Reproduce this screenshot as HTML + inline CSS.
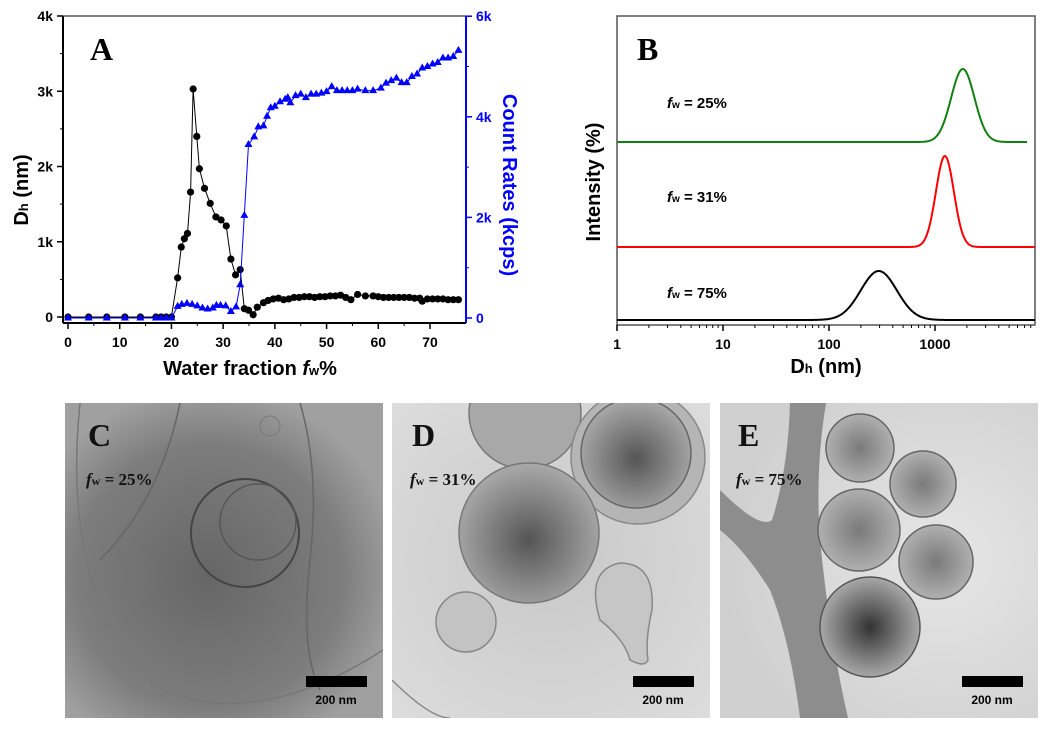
<!DOCTYPE html>
<html><head><meta charset="utf-8"><style>
html,body{margin:0;padding:0;background:#fff}
svg{display:block}
text{font-family:"Liberation Sans",Arial,sans-serif}
.ser{font-family:"Liberation Serif","Times New Roman",serif;font-weight:bold}
</style></head><body>
<svg id="fig" width="1052" height="732" viewBox="0 0 1052 732" xmlns="http://www.w3.org/2000/svg">
<defs>
<radialGradient id="gC" cx="0.45" cy="0.55" r="0.6"><stop offset="0" stop-color="#666"/><stop offset="0.7" stop-color="#7d7d7d"/><stop offset="1" stop-color="#a0a0a0"/></radialGradient>
<radialGradient id="gD" cx="0.5" cy="0.5" r="0.7"><stop offset="0" stop-color="#c8c8c8"/><stop offset="1" stop-color="#dcdcdc"/></radialGradient>
<radialGradient id="gDc" cx="0.5" cy="0.55" r="0.55"><stop offset="0" stop-color="#555"/><stop offset="1" stop-color="#aaa"/></radialGradient>
<radialGradient id="gE" cx="0.7" cy="0.5" r="0.7"><stop offset="0" stop-color="#e6e6e6"/><stop offset="1" stop-color="#cfcfcf"/></radialGradient>
<radialGradient id="gEc" cx="0.5" cy="0.5" r="0.55"><stop offset="0" stop-color="#7a7a7a"/><stop offset="1" stop-color="#b5b5b5"/></radialGradient>
<radialGradient id="gEc2" cx="0.5" cy="0.5" r="0.5"><stop offset="0" stop-color="#333"/><stop offset="1" stop-color="#a8a8a8"/></radialGradient>
<clipPath id="cC"><rect x="65" y="403" width="318" height="315"/></clipPath>
<clipPath id="cD"><rect x="392" y="403" width="318" height="315"/></clipPath>
<clipPath id="cE"><rect x="720" y="403" width="318" height="315"/></clipPath>
</defs>
<g id="panelA"></g>
<g id="panelB"></g>

<!-- TEM C -->
<g>
<g clip-path="url(#cC)">
<rect x="65" y="403" width="318" height="315" fill="url(#gC)"/>
<path d="M80 403 Q60 600 160 690 Q260 730 383 650" fill="none" stroke="#777" stroke-width="1.5"/>
<path d="M180 403 Q160 500 100 560" fill="none" stroke="#666" stroke-width="1.5"/>
<path d="M300 403 Q320 470 310 560 Q300 650 320 690" fill="none" stroke="#666" stroke-width="1.5"/>
<circle cx="245" cy="533" r="54" fill="none" stroke="#444" stroke-width="2"/>
<circle cx="258" cy="522" r="38" fill="none" stroke="#555" stroke-width="1.5"/>
<circle cx="270" cy="426" r="10" fill="none" stroke="#777" stroke-width="1"/>
</g>
<text x="88" y="446" class="ser" font-size="32" fill="#111">C</text>
<text x="86" y="485" class="ser" font-size="17" fill="#111"><tspan font-style="italic">f</tspan><tspan font-size="12">w</tspan> = 25%</text>
<rect x="306" y="676" width="61" height="11" fill="#000"/>
<text x="336" y="704" font-size="12" font-weight="bold" text-anchor="middle" fill="#000">200 nm</text>
</g>

<!-- TEM D -->
<g>
<g clip-path="url(#cD)">
<rect x="392" y="403" width="318" height="315" fill="url(#gD)"/>
<circle cx="525" cy="413" r="56" fill="#a8a8a8" stroke="#777" stroke-width="1.5"/>
<circle cx="638" cy="457" r="67" fill="#b5b5b5" stroke="#888" stroke-width="1.5"/>
<circle cx="636" cy="453" r="55" fill="url(#gDc)" stroke="#666" stroke-width="1.5"/>
<circle cx="529" cy="533" r="70" fill="url(#gDc)" stroke="#777" stroke-width="1.5"/>
<circle cx="466" cy="622" r="30" fill="#c3c3c3" stroke="#888" stroke-width="1.5"/>
<path d="M600 620 Q585 570 620 563 Q655 563 652 610 Q645 640 648 660 Q645 668 630 660 Q625 640 600 620 Z" fill="#c6c6c6" stroke="#888" stroke-width="1.5"/>
<path d="M392 680 Q430 718 450 718" fill="none" stroke="#888" stroke-width="1.5"/>
</g>
<text x="412" y="446" class="ser" font-size="32" fill="#111">D</text>
<text x="410" y="485" class="ser" font-size="17" fill="#111"><tspan font-style="italic">f</tspan><tspan font-size="12">w</tspan> = 31%</text>
<rect x="633" y="676" width="61" height="11" fill="#000"/>
<text x="663" y="704" font-size="12" font-weight="bold" text-anchor="middle" fill="#000">200 nm</text>
</g>

<!-- TEM E -->
<g>
<g clip-path="url(#cE)">
<rect x="720" y="403" width="318" height="315" fill="url(#gE)"/>
<path d="M790 403 L826 403 Q815 470 820 540 Q830 640 848 718 L800 718 Q790 640 770 590 Q745 550 720 530 L720 490 Q760 530 772 520 Q788 470 790 403 Z" fill="#8d8d8d"/>
<circle cx="860" cy="448" r="34" fill="url(#gEc)" stroke="#666" stroke-width="1.5"/>
<circle cx="923" cy="484" r="33" fill="url(#gEc)" stroke="#666" stroke-width="1.5"/>
<circle cx="859" cy="530" r="41" fill="url(#gEc)" stroke="#666" stroke-width="1.5"/>
<circle cx="936" cy="562" r="37" fill="url(#gEc)" stroke="#666" stroke-width="1.5"/>
<circle cx="870" cy="627" r="50" fill="url(#gEc2)" stroke="#555" stroke-width="1.5"/>
</g>
<text x="738" y="446" class="ser" font-size="32" fill="#111">E</text>
<text x="736" y="485" class="ser" font-size="17" fill="#111"><tspan font-style="italic">f</tspan><tspan font-size="12">w</tspan> = 75%</text>
<rect x="962" y="676" width="61" height="11" fill="#000"/>
<text x="992" y="704" font-size="12" font-weight="bold" text-anchor="middle" fill="#000">200 nm</text>
</g>
</svg>
<script>
// ---- Panel A data ----
const dhX = [0,4,7.5,11,14,17,18,19,20,21.2,21.9,22.5,23.1,23.7,24.2,24.9,25.4,26.4,27.5,28.6,29.6,30.6,31.5,32.4,33.3,34.1,34.9,35.8,36.6,37.8,38.7,39.7,40.7,41.7,42.7,43.7,44.7,45.7,46.7,47.7,48.7,49.7,50.7,51.7,52.7,53.7,54.7,56,57.5,59,60,61,62,63,64,65,66,67,68,68.5,69.5,70.5,71.5,72.5,73.5,74.5,75.5];
const dhY = [0,0,0,0,0,0,0,0,0,0.52,0.93,1.04,1.11,1.66,3.03,2.40,1.97,1.71,1.51,1.33,1.29,1.21,0.77,0.56,0.63,0.11,0.09,0.03,0.13,0.19,0.22,0.24,0.25,0.23,0.24,0.26,0.26,0.27,0.27,0.26,0.27,0.27,0.28,0.28,0.29,0.26,0.23,0.30,0.28,0.28,0.27,0.26,0.26,0.26,0.26,0.26,0.26,0.25,0.25,0.21,0.24,0.24,0.24,0.24,0.23,0.23,0.23];
const crX = [0,4,7.5,11,14,17,18,19,20,21.2,22,23,24,25,26,27,28,28.7,29.5,30.5,31.5,32.5,33.3,34.1,34.9,36,36.8,37.8,38.5,39.2,40,41,42,42.5,43,44,45,46,47,48,49,50,51,52,53,54,55,56,57.5,59,60.5,61.5,62.5,63.5,64.5,65.5,66.5,67.5,68.5,69.5,70.5,71.5,72.5,73.5,74.5,75.5];
const crY = [0,0,0,0,0,0,0,0,0,0.23,0.27,0.29,0.27,0.24,0.20,0.18,0.20,0.25,0.25,0.24,0.13,0.22,0.66,2.04,3.45,3.60,3.80,3.82,4.01,4.18,4.21,4.30,4.35,4.38,4.28,4.42,4.45,4.38,4.45,4.45,4.47,4.50,4.60,4.52,4.52,4.52,4.52,4.55,4.52,4.52,4.57,4.67,4.72,4.77,4.68,4.68,4.80,4.85,4.97,5.00,5.05,5.08,5.17,5.17,5.20,5.32];
const xTicksA = [0,10,20,30,40,50,60,70];
const yTicksA = [0,1,2,3,4];
const yLabelsA = ["0","1k","2k","3k","4k"];
const y2Ticks = [0,2,4,6];
const y2Labels = ["0","2k","4k","6k"];
// ---- Panel B data ----
const bLabels = ["fw = 25%","fw = 31%","fw = 75%"];
const bCenters = [1830,1240,295];
const bWidths = [0.11,0.085,0.17];
const bHeights = [73,91,49];
const bOffsets = [2,1,0];
const bColors = ["#118011","#ff0000","#000000"];
const bXTicks = [1,10,100,1000];

const NS="http://www.w3.org/2000/svg";
function mk(p,tag,attrs,txt){const e=document.createElementNS(NS,tag);for(const k in attrs)e.setAttribute(k,attrs[k]);if(txt!==undefined)e.textContent=txt;p.appendChild(e);return e;}

const A=document.getElementById('panelA');
const ax=v=>68+v*(430-68)/70;
const ay=v=>317-v*75.25;
const ay2=v=>318-v*50.3;
mk(A,'line',{x1:63,y1:16,x2:466,y2:16,stroke:'#000','stroke-width':1});
mk(A,'line',{x1:63,y1:16,x2:63,y2:323,stroke:'#000','stroke-width':2});
mk(A,'line',{x1:63,y1:323,x2:466,y2:323,stroke:'#000','stroke-width':2});
mk(A,'line',{x1:466,y1:16,x2:466,y2:323,stroke:'#00f','stroke-width':2});
xTicksA.forEach(t=>{mk(A,'line',{x1:ax(t),y1:323,x2:ax(t),y2:329,stroke:'#000','stroke-width':1.5});
 const l=mk(A,'text',{x:ax(t),y:347,'font-size':14,'font-weight':'bold','text-anchor':'middle'},String(t));
 
 if(t<70)mk(A,'line',{x1:ax(t+5),y1:323,x2:ax(t+5),y2:326,stroke:'#000','stroke-width':1});});
yTicksA.forEach((t,i)=>{mk(A,'line',{x1:57,y1:ay(t),x2:63,y2:ay(t),stroke:'#000','stroke-width':1.5});
 if(i<4)mk(A,'line',{x1:60,y1:ay(t+0.5),x2:63,y2:ay(t+0.5),stroke:'#000','stroke-width':1});
 const l=mk(A,'text',{x:53,y:ay(t)+5,'font-size':14,'font-weight':'bold','text-anchor':'end'},yLabelsA[i]);
 });
y2Ticks.forEach((t,i)=>{mk(A,'line',{x1:466,y1:ay2(t),x2:472,y2:ay2(t),stroke:'#00f','stroke-width':1.5});
 if(i<3)mk(A,'line',{x1:466,y1:ay2(t+1),x2:469,y2:ay2(t+1),stroke:'#00f','stroke-width':1});
 const l=mk(A,'text',{x:476,y:ay2(t)+5,'font-size':14,'font-weight':'bold',fill:'#00f'},y2Labels[i]);
 });
let t1=mk(A,'text',{x:250,y:375,'font-size':20,'font-weight':'bold','text-anchor':'middle'});

t1.innerHTML='Water fraction <tspan font-style="italic">f</tspan><tspan font-size="13">w</tspan>%';
let t2=mk(A,'text',{x:0,y:0,'font-size':20,'font-weight':'bold','text-anchor':'middle',transform:'translate(28,190) rotate(-90)'});

t2.innerHTML='D<tspan font-size="13">h</tspan> (nm)';
let t3=mk(A,'text',{x:0,y:0,'font-size':20,'font-weight':'bold',fill:'#00f','text-anchor':'middle',transform:'translate(503,185) rotate(90)'},'Count Rates (kcps)');

let tA=mk(A,'text',{x:90,y:60,'font-size':32,class:'ser'},'A');

let pd=dhX.map((x,i)=>(i?'L':'M')+ax(x).toFixed(1)+' '+ay(dhY[i]).toFixed(1)).join(' ');
let l1=mk(A,'path',{d:pd,fill:'none',stroke:'#000','stroke-width':1});

dhX.forEach((x,i)=>{const c=mk(A,'circle',{cx:ax(x),cy:ay(dhY[i]),r:3.6,fill:'#000'});
 });
let pc=crX.map((x,i)=>(i?'L':'M')+ax(x).toFixed(1)+' '+ay2(crY[i]).toFixed(1)).join(' ');
let l2=mk(A,'path',{d:pc,fill:'none',stroke:'#00f','stroke-width':1});

crX.forEach((x,i)=>{const X=ax(x),Y=ay2(crY[i]);
 const p=mk(A,'polygon',{points:`${X},${Y-4.5} ${X-4},${Y+2.5} ${X+4},${Y+2.5}`,fill:'#00f'});
 });

const B=document.getElementById('panelB');
const bx=v=>617+Math.log10(v)*106;
const baseY=[320,247,142];
let fr=mk(B,'rect',{x:617,y:16,width:418,height:309,fill:'none',stroke:'#555','stroke-width':1.5});

bXTicks.forEach(t=>{mk(B,'line',{x1:bx(t),y1:325,x2:bx(t),y2:331,stroke:'#000','stroke-width':1.5});
 const l=mk(B,'text',{x:bx(t),y:349,'font-size':14,'font-weight':'bold','text-anchor':'middle'},String(t));
 
 for(let m=2;m<10;m++){const v=t*m;if(bx(v)<1035)mk(B,'line',{x1:bx(v),y1:325,x2:bx(v),y2:328,stroke:'#000','stroke-width':1});}});
let bt=mk(B,'text',{x:826,y:373,'font-size':20,'font-weight':'bold','text-anchor':'middle'});

bt.innerHTML='D<tspan font-size="13">h</tspan> (nm)';
let by=mk(B,'text',{x:0,y:0,'font-size':20,'font-weight':'bold','text-anchor':'middle',transform:'translate(600,182) rotate(-90)'},'Intensity (%)');

let tB=mk(B,'text',{x:637,y:60,'font-size':32,class:'ser'},'B');

const lblY=[108,202,298];
bCenters.forEach((c,i)=>{
 const y0=baseY[bOffsets[i]];
 const xEnd = i===0?1027:1035;
 let d='';
 for(let px=617;px<=xEnd;px+=1){
  const lv=(px-617)/106;
  const z=(lv-Math.log10(c))/bWidths[i];
  const y=y0-bHeights[i]*Math.exp(-z*z/2);
  d+=(px===617?'M':'L')+px+' '+y.toFixed(2)+' ';
 }
 const p=mk(B,'path',{d:d,fill:'none',stroke:bColors[i],'stroke-width':2});
 
 const lt=mk(B,'text',{x:667,y:lblY[i],'font-size':15,'font-weight':'bold'});
 
 lt.innerHTML='<tspan font-style="italic">f</tspan><tspan font-size="10">w</tspan>'+bLabels[i].slice(2);
});
</script>
</body></html>
